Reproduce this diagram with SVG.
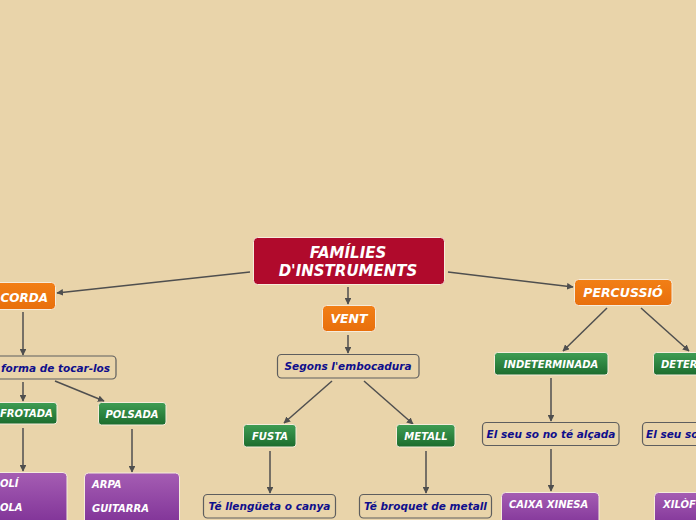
<svg xmlns="http://www.w3.org/2000/svg" width="696" height="520" viewBox="0 0 696 520">
<defs>
<linearGradient id="gGreen" x1="0" y1="0" x2="0" y2="1"><stop offset="0" stop-color="#3f9d54"/><stop offset="1" stop-color="#1c6c2d"/></linearGradient>
<linearGradient id="gPurple" x1="0" y1="0" x2="0" y2="1"><stop offset="0" stop-color="#a55db3"/><stop offset="1" stop-color="#7a2c93"/></linearGradient>
<linearGradient id="gOrange" x1="0" y1="0" x2="0" y2="1"><stop offset="0" stop-color="#f27f16"/><stop offset="1" stop-color="#e86f0c"/></linearGradient>
<marker id="arr" viewBox="0 0 10 10" refX="9" refY="5" markerWidth="4.5" markerHeight="4.5" orient="auto"><path d="M0,0 L10,5 L0,10 z" fill="#4f4f4f"/></marker>
<style>
.root{fill:#b00a2c;stroke:#f6ecdc;stroke-width:1}
.main{fill:url(#gOrange);stroke:#f6ecdc;stroke-width:1}
.sub{fill:url(#gGreen);stroke:#f6ecdc;stroke-width:1}
.leaf{fill:url(#gPurple);stroke:#f6ecdc;stroke-width:1}
.note{fill:#e9d4aa;stroke:#5e5e5e;stroke-width:1.2}
.wt{font-family:"DejaVu Sans",Verdana,sans-serif;font-weight:bold;font-style:italic;fill:#ffffff}
.bt{font-family:"DejaVu Sans",Verdana,sans-serif;font-weight:bold;font-style:italic;fill:#0f0f8c;font-size:10.5px}
.c{text-anchor:middle}
#connectors line{stroke:#4f4f4f;stroke-width:1.5;marker-end:url(#arr)}
</style>
</defs>
<rect x="0" y="0" width="696" height="520" fill="#e9d4aa"/>
<g id="connectors">
<line x1="348" y1="287" x2="348" y2="304"/>
<line x1="348" y1="335" x2="348" y2="353"/>
<line x1="250" y1="272" x2="57" y2="293"/>
<line x1="448" y1="272" x2="573" y2="287"/>
<line x1="23" y1="312" x2="23" y2="355"/>
<line x1="23" y1="382" x2="23" y2="401"/>
<line x1="55" y1="381" x2="104" y2="401"/>
<line x1="23" y1="428" x2="23" y2="471"/>
<line x1="132" y1="429" x2="132" y2="472"/>
<line x1="332" y1="381" x2="284" y2="423"/>
<line x1="364" y1="381" x2="413" y2="424"/>
<line x1="270" y1="451" x2="270" y2="493"/>
<line x1="426" y1="451" x2="426" y2="493"/>
<line x1="607" y1="308" x2="563" y2="351"/>
<line x1="641" y1="308" x2="689" y2="351"/>
<line x1="551" y1="378" x2="551" y2="421"/>
<line x1="551" y1="449" x2="551" y2="491"/>
</g>
<g id="root"><rect class="root" x="253.5" y="237.5" width="191" height="47" rx="4"/>
<text class="wt c" x="348" y="258" font-size="15">FAMÍLIES</text>
<text class="wt c" x="348" y="275.5" font-size="15">D'INSTRUMENTS</text></g>
<g id="vent"><rect class="main" x="322.5" y="305.5" width="53" height="26" rx="4"/>
<text class="wt c" x="349" y="323" font-size="12.5">VENT</text></g>
<g id="corda"><rect class="main" x="-12" y="282.5" width="67.5" height="27" rx="4"/>
<text class="wt" x="0.5" y="302" font-size="12">CORDA</text></g>
<g id="percussio"><rect class="main" x="574.5" y="279.5" width="97.5" height="26" rx="4"/>
<text class="wt c" x="623" y="297" font-size="12.5">PERCUSSIÓ</text></g>
<g id="embocadura"><rect class="note" x="277.5" y="354.5" width="141.5" height="23.5" rx="4"/>
<text class="bt c" x="348" y="370">Segons l'embocadura</text></g>
<g id="forma"><rect class="note" x="-20" y="356" width="136" height="23" rx="4"/>
<text class="bt" x="1" y="371.5">forma de tocar-los</text></g>
<g id="frotada"><rect class="sub" x="-11" y="402.5" width="68" height="21.5" rx="3"/>
<text class="wt" x="0" y="417" font-size="10">FROTADA</text></g>
<g id="polsada"><rect class="sub" x="98.5" y="402.5" width="67.5" height="22.5" rx="3"/>
<text class="wt c" x="132" y="417.5" font-size="10">POLSADA</text></g>
<g id="corda-frotada-list"><rect class="leaf" x="-20" y="472.5" width="87" height="60" rx="4"/>
<text class="wt" x="0" y="487" font-size="10">OLÍ</text>
<text class="wt" x="0" y="511" font-size="10">OLA</text></g>
<g id="corda-polsada-list"><rect class="leaf" x="84.5" y="473" width="95" height="60" rx="4"/>
<text class="wt" x="92" y="488" font-size="10">ARPA</text>
<text class="wt" x="92" y="512" font-size="10">GUITARRA</text></g>
<g id="fusta"><rect class="sub" x="243.5" y="424.5" width="52.5" height="22.5" rx="3"/>
<text class="wt c" x="270" y="439.5" font-size="10">FUSTA</text></g>
<g id="metall"><rect class="sub" x="396.5" y="424.5" width="58.5" height="22.5" rx="3"/>
<text class="wt c" x="426" y="439.5" font-size="10">METALL</text></g>
<g id="llengueta"><rect class="note" x="203.5" y="494.5" width="132" height="23.5" rx="4"/>
<text class="bt c" x="269.5" y="510">Té llengüeta o canya</text></g>
<g id="broquet"><rect class="note" x="359.5" y="494.5" width="132" height="23.5" rx="4"/>
<text class="bt c" x="425.5" y="510">Té broquet de metall</text></g>
<g id="indeterminada"><rect class="sub" x="494.5" y="352.5" width="113.5" height="22.5" rx="3"/>
<text class="wt c" x="551" y="367.5" font-size="10">INDETERMINADA</text></g>
<g id="determinada"><rect class="sub" x="653.5" y="352.5" width="100" height="22.5" rx="3"/>
<text class="wt" x="661" y="367.5" font-size="10">DETER</text></g>
<g id="no-alcada"><rect class="note" x="482.5" y="422.5" width="136.5" height="23" rx="4"/>
<text class="bt c" x="551" y="438">El seu so no té alçada</text></g>
<g id="alcada"><rect class="note" x="642.5" y="422.5" width="120" height="23" rx="4"/>
<text class="bt" x="646" y="438" font-size="9.5">El seu so</text></g>
<g id="caixa"><rect class="leaf" x="501.5" y="492.5" width="97.5" height="40" rx="4"/>
<text class="wt" x="509" y="507.5" font-size="10">CAIXA XINESA</text></g>
<g id="xilofon"><rect class="leaf" x="654.5" y="492.5" width="80" height="40" rx="4"/>
<text class="wt" x="663" y="507.5" font-size="10">XILÒF</text></g>
</svg>
